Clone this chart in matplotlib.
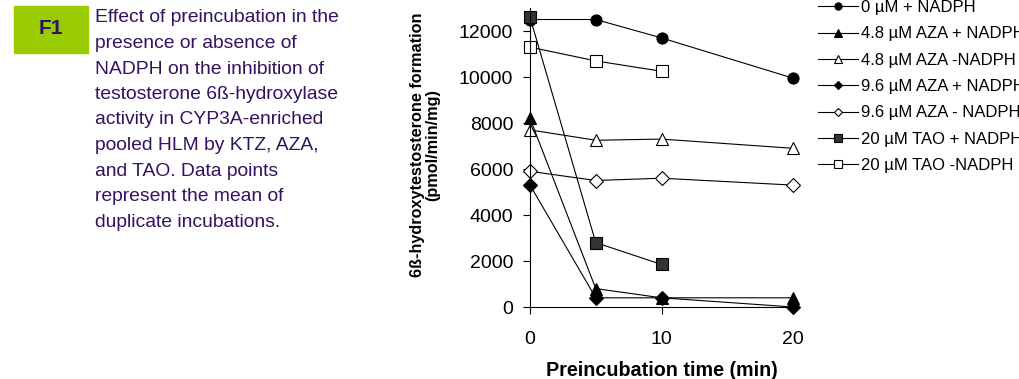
import matplotlib
matplotlib.use("Agg")
import matplotlib.pyplot as plt

plt.rcParams['font.family'] = ['Liberation Sans', 'DejaVu Sans']

# preincubation times (min)
times = [0, 5, 10, 20]
tao_times = [0, 5, 10]

# 6beta-hydroxytestosterone formation (pmol/min/mg)
ctrl_nadph = [12500, 12500, 11700, 9950]
aza48_nadph = [8200, 800, 400, 400]
aza48_no = [7700, 7250, 7300, 6900]
aza96_nadph = [5300, 400, 400, 0]
aza96_no = [5900, 5500, 5600, 5300]
tao_nadph = [12600, 2800, 1850]
tao_no = [11300, 10700, 10250]

labels = ['0 µM + NADPH', '4.8 µM AZA + NADPH', '4.8 µM AZA -NADPH',
          '9.6 µM AZA + NADPH', '9.6 µM AZA - NADPH', '20 µM TAO + NADPH',
          '20 µM TAO -NADPH']

caption = ['Effect of preincubation in the', 'presence or absence of',
           'NADPH on the inhibition of', 'testosterone 6ß-hydroxylase',
           'activity in CYP3A-enriched', 'pooled HLM by KTZ, AZA,',
           'and TAO. Data points', 'represent the mean of',
           'duplicate incubations.']

purple = '#35125f'

fig = plt.figure(figsize=(10.19, 3.79), dpi=100)

# caption on the left
fig.patches.append(plt.Rectangle((14 / 1019, 1 - 53 / 379), 74 / 1019, 47 / 379,
                                 transform=fig.transFigure, color='#99cc00'))
fig.text(51 / 1019, 1 - 29 / 379, 'F1', color=purple, fontsize=15,
         fontweight='bold', ha='center', va='center')
for i, line in enumerate(caption):
    fig.text(95 / 1019, 1 - (18 + 25.5 * i) / 379, line, color=purple,
             fontsize=13.9, ha='left', va='center')

ax = fig.add_axes([530 / 1019, 72 / 379, 263 / 1019, 299 / 379])

lw = 0.8
ms = 8
series = [
    (times, ctrl_nadph, 'o', 'black'),
    (times, aza48_nadph, '^', 'black'),
    (times, aza48_no, '^', 'white'),
    (times, aza96_nadph, 'D', 'black'),
    (times, aza96_no, 'D', 'white'),
    (tao_times, tao_nadph, 's', '#333333'),
    (tao_times, tao_no, 's', 'white'),
]
for (x, y, m, fc), lab in zip(series, labels):
    size = ms * 0.85 if m == 'D' else ms
    ax.plot(x, y, color='black', lw=lw, marker=m, markersize=size,
            markerfacecolor=fc, markeredgecolor='black', markeredgewidth=0.8,
            label=lab, clip_on=False)

ax.set_xlim(0, 20)
ax.set_ylim(0, 13000)
ax.set_xticks([0, 10, 20])
ax.set_yticks(range(0, 13000, 2000))
for s in ['top', 'right']:
    ax.spines[s].set_visible(False)
for s in ['left', 'bottom']:
    ax.spines[s].set_linewidth(0.8)
ax.tick_params(direction='out', length=5, width=0.8, labelsize=14, pad=7)
ax.tick_params(axis='x', pad=12)

fig.text(425 / 1019, 1 - 145 / 379,
         '6ß-hydroxytestosterone formation\n(pmol/min/mg)',
         rotation=90, ha='center', va='center', fontsize=11.7,
         fontweight='bold', linespacing=1.0)
fig.text(662 / 1019, 1 - 370 / 379, 'Preincubation time (min)',
         ha='center', va='center', fontsize=14.2, fontweight='bold')

fig.legend(loc='upper left', bbox_to_anchor=(818 / 1019, 1.0),
           frameon=False, fontsize=12, markerscale=0.65, handlelength=2.4,
           handletextpad=0.2, labelspacing=0.68, borderpad=0, borderaxespad=0)

fig.savefig('out.png', dpi=100)
